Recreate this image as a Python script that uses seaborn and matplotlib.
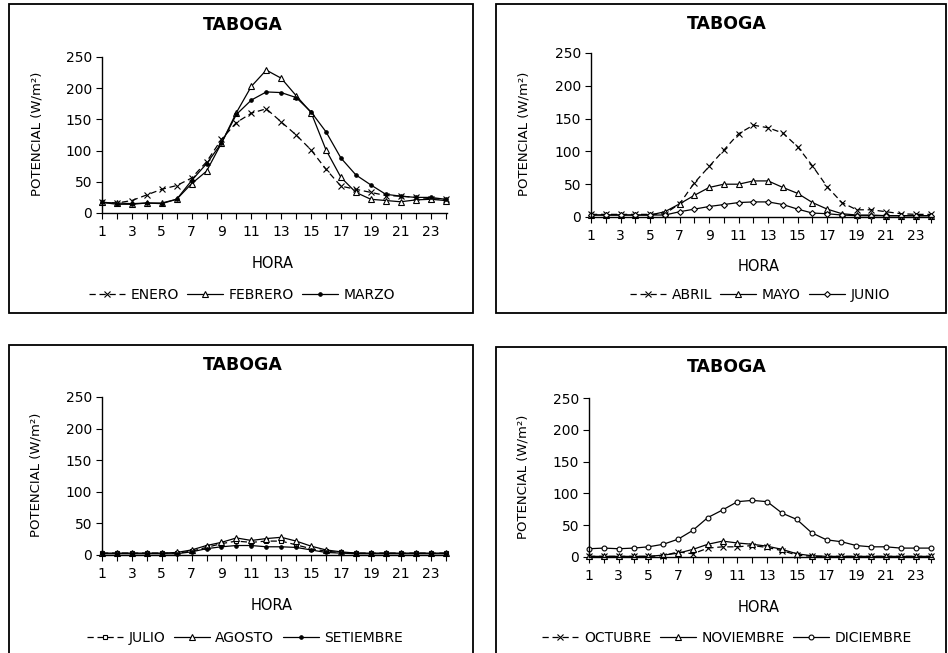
import matplotlib
matplotlib.use("Agg")
import matplotlib.pyplot as plt
import seaborn as sns
from matplotlib.patches import Rectangle

sns.set_style("ticks")
plt.rcParams['font.family'] = ['DejaVu Sans']
plt.rcParams['text.color'] = 'black'
plt.rcParams['axes.labelcolor'] = 'black'

hours = list(range(1, 25))
odd_ticks = list(range(1, 24, 2))
y_ticks = [0, 50, 100, 150, 200, 250]

# Panel 1
enero = [17, 16, 20, 29, 38, 44, 56, 82, 118, 145, 160, 167, 146, 125, 101, 70, 43, 38, 33, 28, 27, 25, 23, 22]
febrero = [17, 16, 15, 16, 16, 22, 47, 67, 112, 161, 203, 229, 216, 188, 161, 101, 57, 33, 22, 20, 18, 21, 22, 20]
marzo = [17, 14, 14, 16, 15, 22, 52, 79, 112, 158, 181, 194, 193, 185, 162, 130, 88, 61, 45, 30, 27, 25, 25, 22]
# Panel 2
abril = [4, 4, 4, 4, 4, 5, 20, 52, 77, 102, 127, 140, 136, 128, 107, 78, 46, 22, 11, 11, 8, 5, 4, 4]
mayo = [3, 3, 3, 3, 3, 8, 20, 33, 45, 50, 50, 55, 55, 45, 36, 22, 12, 5, 3, 3, 2, 2, 2, 2]
junio = [3, 3, 3, 3, 3, 3, 8, 12, 16, 19, 22, 23, 23, 19, 12, 6, 5, 3, 2, 2, 2, 2, 2, 2]
# Panel 3
julio = [3, 3, 3, 3, 3, 3, 6, 12, 18, 22, 20, 22, 22, 16, 10, 6, 4, 3, 3, 3, 3, 3, 3, 3]
agosto = [3, 3, 3, 3, 3, 4, 8, 15, 20, 27, 23, 26, 28, 22, 14, 8, 5, 3, 3, 3, 3, 3, 3, 3]
setiembre = [2, 2, 2, 2, 2, 2, 5, 10, 13, 15, 15, 13, 13, 12, 8, 4, 3, 2, 2, 2, 2, 2, 2, 2]
# Panel 4
octubre = [1, 1, 1, 1, 1, 2, 8, 5, 14, 16, 16, 18, 15, 10, 3, 1, 1, 1, 1, 1, 1, 1, 1, 1]
noviembre = [1, 1, 1, 1, 1, 3, 6, 12, 20, 25, 22, 20, 17, 12, 5, 2, 1, 1, 1, 1, 1, 1, 1, 1]
diciembre = [13, 14, 13, 14, 16, 20, 28, 42, 62, 74, 87, 89, 87, 69, 59, 38, 27, 24, 18, 16, 16, 14, 14, 14]

title = "TABOGA"
ylabel = "POTENCIAL (W/m²)"
xlabel = "HORA"

W, H = 948, 653
fig = plt.figure(figsize=(W / 100, H / 100), dpi=100)


def fx(px):
    return px / W


def fy(py):
    return 1 - py / H


dash = (0, (5, 3))
panels = [
    dict(box=(9, 4, 473, 313), ax=(102, 57, 447, 213), title=(243, 25), hora=(273, 264),
         leg=(242, 295), ylab=(37, 134),
         series=[("ENERO", enero, 'x', dash, 4), ("FEBRERO", febrero, '^', '-', 4.5),
                 ("MARZO", marzo, '.', '-', 5)]),
    dict(box=(496, 4, 946, 313), ax=(591, 53, 932, 217), title=(727, 24), hora=(759, 267),
         leg=(760, 295), ylab=(524, 134),
         series=[("ABRIL", abril, 'x', dash, 4), ("MAYO", mayo, '^', '-', 4.5),
                 ("JUNIO", junio, 'D', '-', 3)]),
    dict(box=(9, 345, 473, 670), ax=(102, 397, 447, 555), title=(243, 365), hora=(272, 605),
         leg=(245, 638), ylab=(36, 475),
         series=[("JULIO", julio, 's', dash, 3), ("AGOSTO", agosto, '^', '-', 4.5),
                 ("SETIEMBRE", setiembre, '.', '-', 5)]),
    dict(box=(496, 347, 946, 670), ax=(589, 398, 932, 557), title=(727, 367), hora=(759, 608),
         leg=(727, 638), ylab=(523, 477),
         series=[("OCTUBRE", octubre, 'x', dash, 4), ("NOVIEMBRE", noviembre, '^', '-', 4.5),
                 ("DICIEMBRE", diciembre, 'o', '-', 3.5)]),
]

for p in panels:
    x0, y0, x1, y1 = p['box']
    fig.patches.append(Rectangle((fx(x0), fy(y1)), (x1 - x0) / W, (y1 - y0) / H,
                                 transform=fig.transFigure, fill=False,
                                 edgecolor='black', linewidth=1.3))
    l, t, r, b = p['ax']
    ax = fig.add_axes([fx(l), fy(b), (r - l) / W, (b - t) / H])
    handles = []
    for name, vals, mk, ls, ms in p['series']:
        sns.lineplot(x=hours, y=vals, ax=ax, color='black', marker=mk, linestyle=ls,
                     linewidth=0.9, markersize=ms,
                     markerfacecolor='white' if mk in ('^', 'D', 's', 'o') else 'black',
                     markeredgecolor='black', markeredgewidth=0.8, clip_on=False, legend=False)
        handles.append((ax.lines[-1], name))
    ax.set_xlim(1, 24.1)
    ax.set_ylim(0, 250)
    ax.set_xticks(odd_ticks)
    ax.set_xticks(hours, minor=True)
    ax.set_xticklabels([str(v) for v in odd_ticks])
    ax.set_yticks(y_ticks)
    ax.set_yticklabels([str(v) for v in y_ticks])
    ax.tick_params(axis='both', which='both', direction='out', length=4, width=0.8,
                   labelsize=10, colors='black', pad=3)
    ax.tick_params(axis='x', which='major', pad=5)
    ax.set_xlabel("")
    ax.set_ylabel("")
    for s in ('top', 'right'):
        ax.spines[s].set_visible(False)
    for s in ('left', 'bottom'):
        ax.spines[s].set_color('black')
        ax.spines[s].set_linewidth(1.0)
    ax.patch.set_alpha(0)
    fig.text(fx(p['title'][0]), fy(p['title'][1]), title, ha='center', va='center',
             fontsize=12.5, fontweight='bold', color='black')
    fig.text(fx(p['hora'][0]), fy(p['hora'][1]), xlabel, ha='center', va='center',
             fontsize=10.5, color='black')
    fig.text(fx(p['ylab'][0]), fy(p['ylab'][1]), ylabel, ha='center', va='center',
             rotation=90, fontsize=9.5, color='black')
    leg = fig.legend([h for h, _ in handles], [n for _, n in handles], loc='center',
                     bbox_to_anchor=(fx(p['leg'][0]), fy(p['leg'][1])), ncol=3, frameon=False,
                     fontsize=10, handlelength=2.6, columnspacing=0.6, handletextpad=0.4,
                     borderaxespad=0, borderpad=0)
    for t in leg.get_texts():
        t.set_color('black')

fig.savefig("out.png", dpi=100, facecolor='white')
